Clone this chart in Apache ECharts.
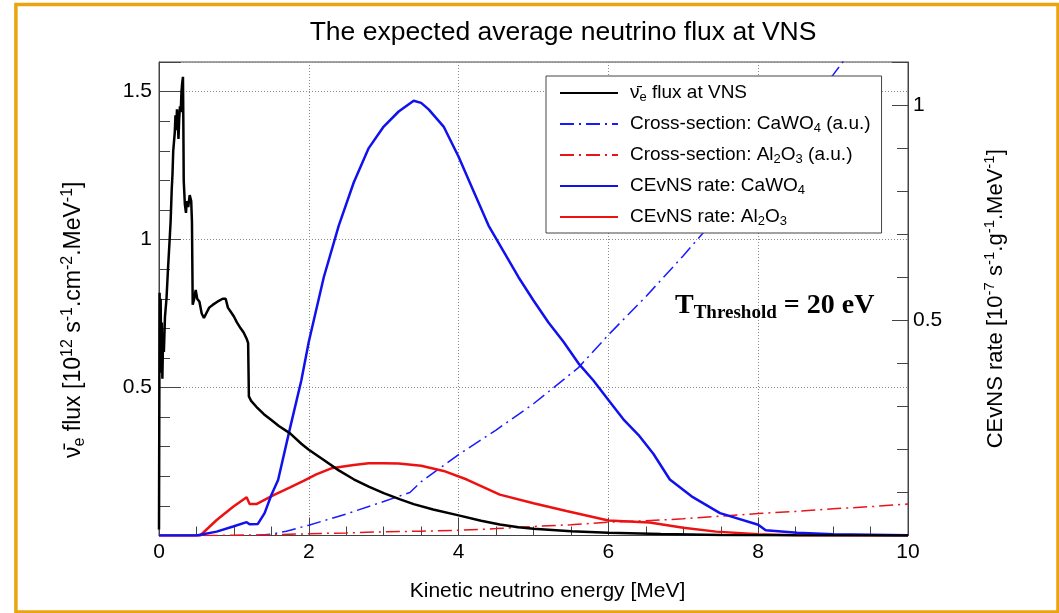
<!DOCTYPE html>
<html><head><meta charset="utf-8">
<script src="https://cdn.jsdelivr.net/npm/echarts@6/dist/echarts.min.js"></script>
<style>html,body{margin:0;padding:0;background:#fff}#c{width:1059px;height:613px}</style>
</head><body><div id="c"></div>
<script>
// Neutrino flux at VNS (left axis, 10^12 s^-1 cm^-2 MeV^-1)
const fluxE = [0.000,0.008,0.015,0.022,0.030,0.038,0.045,0.055,0.065,0.08,0.10,0.12,0.14,0.155,0.17,0.18,0.19,0.20,0.21,0.22,0.23,0.24,0.25,0.26,0.27,0.28,0.29,0.30,0.31,0.32,0.325,0.33,0.345,0.36,0.37,0.39,0.41,0.43,0.44,0.45,0.47,0.49,0.51,0.54,0.57,0.60,0.63,0.67,0.72,0.78,0.85,0.89,0.92,0.96,1.00,1.04,1.09,1.13,1.17,1.19,1.20,1.23,1.30,1.40,1.50,1.60,1.75,1.9,2.0,2.2,2.4,2.6,2.8,3.0,3.22,3.4,3.66,4.0,4.3,4.55,4.8,5.0,5.5,6.0,6.7,7.5,8.5,10];
const fluxV = [0.02,0.82,0.62,0.80,0.55,0.72,0.53,0.68,0.62,0.74,0.80,0.90,0.99,1.06,1.17,1.22,1.30,1.33,1.36,1.42,1.37,1.44,1.40,1.34,1.41,1.45,1.43,1.50,1.53,1.55,1.40,1.20,1.12,1.09,1.13,1.11,1.15,1.13,1.06,0.78,0.80,0.83,0.80,0.79,0.75,0.735,0.75,0.77,0.78,0.79,0.80,0.80,0.77,0.755,0.74,0.72,0.70,0.686,0.665,0.65,0.47,0.455,0.435,0.41,0.39,0.37,0.345,0.31,0.29,0.255,0.22,0.19,0.165,0.143,0.122,0.106,0.088,0.068,0.05,0.037,0.028,0.023,0.014,0.009,0.005,0.002,0.0005,0];

// Cross-section CaWO4 (a.u., right axis)
const xsCaE = [1.3,1.5,1.7,2.0,2.5,3.0,3.35,3.5,4.0,4.5,5.0,5.6,6.0,6.5,7.0,7.5,8.0,8.5,9.0,9.3];
const xsCaV = [0,0.003,0.01,0.024,0.05,0.079,0.10,0.125,0.188,0.245,0.306,0.39,0.466,0.555,0.65,0.75,0.853,0.965,1.07,1.14];

// Cross-section Al2O3 (a.u., right axis)
const xsAlE = [0.6,1.0,1.5,2.0,2.5,3.0,3.5,4.0,4.5,5.0,5.5,6.0,6.5,7.0,7.5,8.0,8.5,9.0,9.5,10];
const xsAlV = [0,0.0005,0.002,0.004,0.006,0.0085,0.010,0.012,0.016,0.021,0.025,0.031,0.034,0.039,0.045,0.051,0.056,0.062,0.067,0.073];

// CEvNS rate CaWO4 (right axis, 10^-7 s^-1 g^-1 MeV^-1)
const rateCaE = [0,0.5,0.77,0.99,1.17,1.21,1.32,1.41,1.5,1.59,1.75,1.9,2.0,2.2,2.4,2.6,2.8,3.0,3.2,3.4,3.5,3.6,3.8,4.0,4.2,4.4,4.6,4.8,5.0,5.2,5.4,5.6,5.8,6.0,6.2,6.4,6.6,6.82,7.11,7.49,8.0,8.1,8.52,9.0,10];
const rateCaV = [0,0,0.009,0.021,0.031,0.026,0.027,0.052,0.094,0.129,0.25,0.36,0.45,0.6,0.72,0.82,0.9,0.95,0.985,1.01,1.005,0.99,0.95,0.88,0.8,0.72,0.66,0.6,0.546,0.495,0.45,0.40,0.36,0.315,0.27,0.234,0.19,0.13,0.091,0.052,0.025,0.012,0.0065,0.003,0.0005];

// CEvNS rate Al2O3 (right axis)
const rateAlE = [0,0.55,0.77,0.99,1.17,1.21,1.30,1.53,1.75,1.93,2.1,2.3,2.6,2.8,3.0,3.2,3.5,3.8,4.11,4.55,5.0,5.44,6.0,6.55,7.0,7.44,8.0,8.5,10];
const rateAlV = [0,0,0.036,0.067,0.089,0.073,0.073,0.094,0.112,0.127,0.142,0.156,0.164,0.168,0.168,0.167,0.162,0.15,0.13,0.095,0.075,0.057,0.035,0.03,0.018,0.009,0.003,0.0005,0];

const xTicks = {min:0, max:10, step:2};
const leftTicks = {min:0, max:1.6, step:0.5};
const rightTicks = {min:0, max:1.1, step:0.5};

const zip = (a,b)=>a.map((v,i)=>[v,b[i]]);
const FONT = '"Liberation Sans", Arial, sans-serif';

const chart = echarts.init(document.getElementById('c'), null, {renderer:'canvas'});
const legendText = {
  flux: '{p| }{a|\u03BD\u0304}{sub|e}{a| flux at VNS}',
  xsCa: '{p| }{a|Cross-section: CaWO}{sub|4}{a| (a.u.)}',
  xsAl: '{p| }{a|Cross-section: Al}{sub|2}{a|O}{sub|3}{a| (a.u.)}',
  rateCa: '{p| }{a|CEvNS rate: CaWO}{sub|4}',
  rateAl: '{p| }{a|CEvNS rate: Al}{sub|2}{a|O}{sub|3}'
};
const dotted = {type:[1,2], color:'#8a8a8a', width:1};
const option = {
  animation:false,
  backgroundColor:'#fff',
  title:{
    text:'The expected average neutrino flux at VNS',
    left:558, top:14, textAlign:'center',
    textStyle:{fontFamily:FONT, fontSize:26.5, fontWeight:'normal', color:'#000'}
  },
  grid:{left:159, right:151, top:62, bottom:77.5, show:true, borderColor:'#444', borderWidth:1, backgroundColor:'transparent'},
  legend:{
    orient:'vertical', left:546, top:76,
    data:['flux','xsCa','xsAl','rateCa','rateAl'],
    backgroundColor:'#fff', borderColor:'#444', borderWidth:1,
    padding:[6,11,5,13], itemGap:9, itemWidth:58, itemHeight:14,
    itemStyle:{color:'rgba(0,0,0,0)', borderColor:'rgba(0,0,0,0)', borderWidth:0, opacity:0},
    formatter:(n)=>legendText[n],
    textStyle:{
      fontFamily:FONT, fontSize:19, color:'#000', lineHeight:22,
      rich:{
        p:{width:7, fontSize:19, lineHeight:22},
        a:{fontFamily:FONT, fontSize:19, color:'#000', lineHeight:22},
        sub:{fontFamily:FONT, fontSize:13, color:'#000', lineHeight:13, verticalAlign:'bottom'}
      }
    }
  },
  graphic:[
    {type:'rect', silent:true, z:100, shape:{x:15.9, y:4.4, width:1042.1, height:607.6},
     style:{fill:'none', stroke:'#e9a40f', lineWidth:3.5}},
    {type:'text', z:50, x:675, y:306,
     style:{
       text:'{t|T}{s|Threshold}{t| = 20 eV}',
       verticalAlign:'middle',
       rich:{
         t:{fontFamily:'"Liberation Serif", "Times New Roman", serif', fontWeight:'bold', fontSize:28, lineHeight:34, fill:'#000'},
         s:{fontFamily:'"Liberation Serif", "Times New Roman", serif', fontWeight:'bold', fontSize:19, lineHeight:19, verticalAlign:'bottom', fill:'#000'}
       }
     }}
  ],
  xAxis:{
    type:'value', min:xTicks.min, max:xTicks.max, interval:xTicks.step,
    name:'Kinetic neutrino energy [MeV]', nameLocation:'middle', nameGap:45,
    nameTextStyle:{fontFamily:FONT, fontSize:21, color:'#000', padding:[0,0,0,28]},
    axisLine:{show:true, lineStyle:{color:'#444', width:1}},
    axisTick:{show:true, inside:true, length:18, lineStyle:{color:'#444'}},
    minorTick:{show:true, splitNumber:4, length:9, lineStyle:{color:'#444'}},
    axisLabel:{fontFamily:FONT, fontSize:21, color:'#000', margin:6},
    splitLine:{show:true, lineStyle:dotted}
  },
  yAxis:[
    {
      type:'value', position:'left', min:leftTicks.min, max:leftTicks.max, interval:leftTicks.step,
      name:'{a|\u03BD\u0304}{sub|e}{a| flux [10}{sup|12}{a| s}{sup|-1}{a|.cm}{sup|-2}{a|.MeV}{sup|-1}{a|]}',
      nameLocation:'middle', nameGap:71, nameRotate:90,
      nameTextStyle:{padding:[0,42,0,0], rich:{
        a:{fontFamily:FONT, fontSize:23, color:'#000', lineHeight:28},
        sup:{fontFamily:FONT, fontSize:16, color:'#000', lineHeight:16, verticalAlign:'top'},
        sub:{fontFamily:FONT, fontSize:16, color:'#000', lineHeight:16, verticalAlign:'bottom'}
      }},
      axisLine:{show:true, lineStyle:{color:'#444', width:1}},
      axisTick:{show:true, inside:true, length:22, lineStyle:{color:'#444'}},
      minorTick:{show:true, splitNumber:5, length:11, lineStyle:{color:'#444'}},
      axisLabel:{fontFamily:FONT, fontSize:21, color:'#000', margin:7,
        formatter:(v)=> (Math.abs(v-0.5)<1e-9||Math.abs(v-1)<1e-9||Math.abs(v-1.5)<1e-9) ? String(v) : ''},
      splitLine:{show:true, lineStyle:dotted}
    },
    {
      type:'value', position:'right', min:rightTicks.min, max:rightTicks.max, interval:rightTicks.step,
      name:'{a|CEvNS rate [10}{sup|-7}{a| s}{sup|-1}{a|.g}{sup|-1}{a|.MeV}{sup|-1}{a|]}',
      nameLocation:'middle', nameGap:74, nameRotate:90,
      nameTextStyle:{rich:{
        a:{fontFamily:FONT, fontSize:22, color:'#000', lineHeight:27},
        sup:{fontFamily:FONT, fontSize:15, color:'#000', lineHeight:15, verticalAlign:'top'}
      }},
      axisLine:{show:true, lineStyle:{color:'#444', width:1}},
      axisTick:{show:true, inside:true, length:16, lineStyle:{color:'#444'}},
      minorTick:{show:true, splitNumber:5, length:11, lineStyle:{color:'#444'}},
      axisLabel:{fontFamily:FONT, fontSize:21, color:'#000', margin:5,
        formatter:(v)=> (Math.abs(v-0.5)<1e-9||Math.abs(v-1)<1e-9) ? String(v) : ''},
      splitLine:{show:false}
    }
  ],
  series:[
    {name:'xsCa', type:'line', yAxisIndex:1, data:zip(xsCaE,xsCaV), symbol:'none', smooth:false,
      lineStyle:{color:'#1a1aff', width:1.5, type:[14,5,2,5]}, itemStyle:{color:'#1a1aff'}, z:2},
    {name:'xsAl', type:'line', yAxisIndex:1, data:zip(xsAlE,xsAlV), symbol:'none',
      lineStyle:{color:'#e8141b', width:1.5, type:[14,5,2,5]}, itemStyle:{color:'#e8141b'}, z:2},
    {name:'rateAl', type:'line', yAxisIndex:1, data:zip(rateAlE,rateAlV), symbol:'none',
      lineStyle:{color:'#ee1111', width:2.5}, itemStyle:{color:'#ee1111'}, z:3},
    {name:'rateCa', type:'line', yAxisIndex:1, data:zip(rateCaE,rateCaV), symbol:'none',
      lineStyle:{color:'#1111ee', width:2.5}, itemStyle:{color:'#1111ee'}, z:3},
    {name:'flux', type:'line', yAxisIndex:0, data:zip(fluxE,fluxV), symbol:'none',
      lineStyle:{color:'#000', width:2.5}, itemStyle:{color:'#000'}, z:4}
  ]
};
chart.setOption(option);
</script></body></html>
